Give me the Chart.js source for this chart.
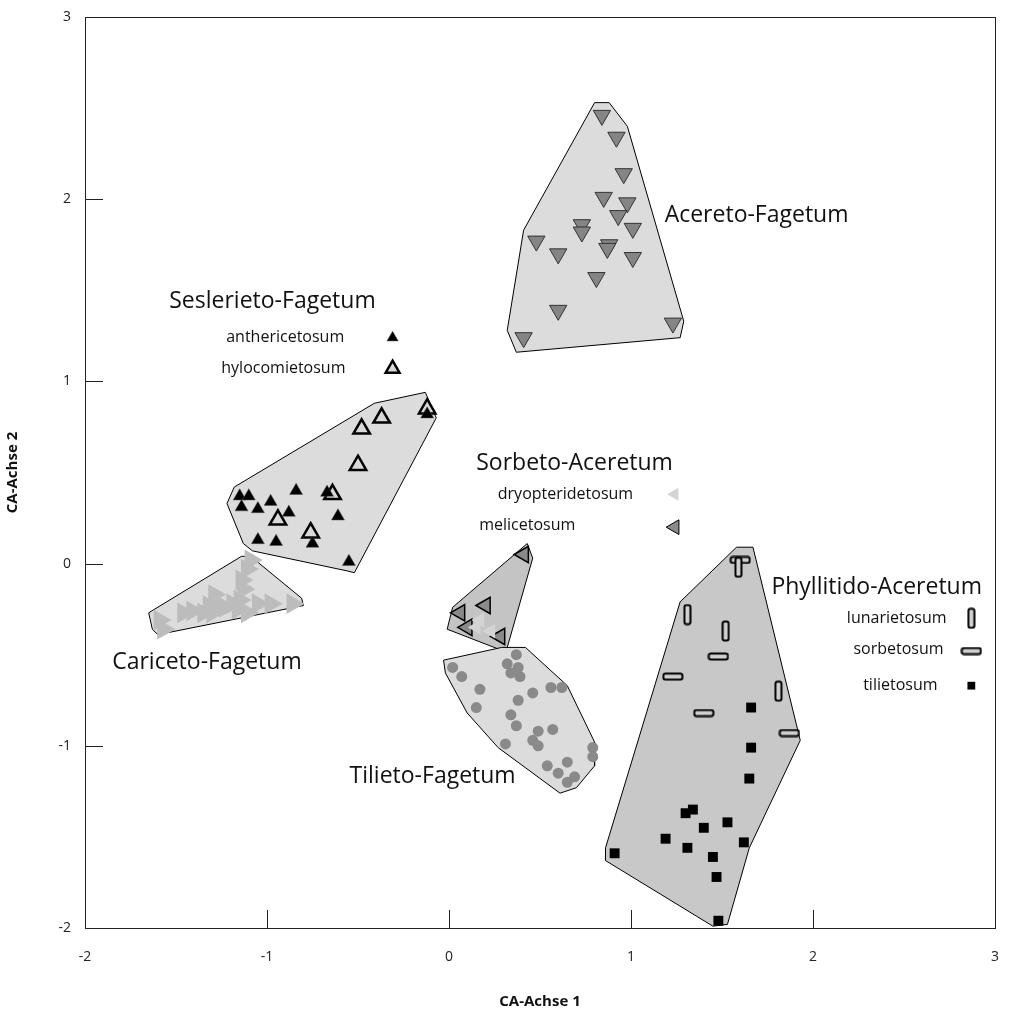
<!DOCTYPE html>
<html>
<head>
<meta charset="utf-8">
<script src="https://cdn.jsdelivr.net/npm/chart.js@4/dist/chart.umd.min.js"></script>
<style>
  body { margin: 0; background: #fff; }
  #wrap { width: 1009px; height: 1016px; }
</style>
</head>
<body>
<div id="wrap"><canvas id="caChart" width="1009" height="1016"></canvas></div>
<script>
// Axis ticks
const xTicks = [-2, -1, 0, 1, 2, 3];
const yTicks = [-2, -1, 0, 1, 2, 3];

// Acereto-Fagetum (down triangles)
const acereto = [[0.84,2.46],[0.92,2.34],[0.96,2.14],[0.85,2.01],[0.98,1.98],[0.93,1.91],[1.01,1.84],
  [0.73,1.86],[0.73,1.82],[0.48,1.77],[0.60,1.70],[0.88,1.75],[0.87,1.73],[1.01,1.68],[0.81,1.57],
  [0.60,1.39],[1.23,1.32],[0.41,1.24]];
const aceretoHull = [[0.80,2.53],[0.88,2.53],[0.98,2.40],[1.29,1.33],[1.27,1.24],[0.37,1.16],[0.32,1.28],[0.41,1.83]];

// Seslerieto-Fagetum
const anthericetosum = [[-1.15,0.37],[-1.10,0.37],[-1.14,0.31],[-0.98,0.34],[-1.05,0.30],[-0.88,0.28],
  [-0.84,0.40],[-0.67,0.39],[-0.61,0.26],[-1.05,0.13],[-0.95,0.12],[-0.75,0.11],[-0.55,0.01],[-0.12,0.82]];
const hylocomietosum = [[-0.37,0.80],[-0.48,0.74],[-0.50,0.54],[-0.64,0.38],[-0.94,0.24],[-0.76,0.17],[-0.12,0.85]];
const seslerietoHull = [[-1.18,0.42],[-1.22,0.33],[-1.13,0.11],[-1.08,0.07],[-0.56,-0.04],[-0.52,-0.05],
  [-0.07,0.80],[-0.13,0.94],[-0.41,0.88]];

// Cariceto-Fagetum (right triangles)
const cariceto = [[-1.09,0.02],[-1.11,-0.03],[-1.14,-0.09],[-1.13,-0.14],[-1.15,-0.20],[-1.29,-0.17],
  [-1.27,-0.22],[-1.32,-0.23],[-1.41,-0.26],[-1.35,-0.27],[-1.30,-0.27],[-1.23,-0.24],[-1.19,-0.22],
  [-1.16,-0.25],[-1.11,-0.27],[-1.05,-0.22],[-0.98,-0.22],[-0.86,-0.22],[-1.59,-0.31],[-1.57,-0.36],[-1.46,-0.27]];
const caricetoHull = [[-1.65,-0.27],[-1.14,0.04],[-1.09,0.04],[-0.81,-0.19],[-0.80,-0.23],[-1.60,-0.39],[-1.63,-0.36]];

// Sorbeto-Aceretum (left triangles)
const melicetosum = [[0.41,0.05],[0.20,-0.23],[0.06,-0.27],[0.10,-0.35],[0.28,-0.40]];
const dryopteridetosum = [[0.15,-0.35],[0.23,-0.37],[0.17,-0.31]];
const sorbetoHull = [[0.43,0.11],[0.46,0.03],[0.32,-0.46],[0.30,-0.48],[-0.01,-0.36],[0.02,-0.24]];

// Tilieto-Fagetum (circles)
const tilieto = [[0.02,-0.57],[0.07,-0.62],[0.17,-0.69],[0.15,-0.79],[0.37,-0.50],[0.32,-0.55],[0.38,-0.57],
  [0.34,-0.60],[0.39,-0.62],[0.46,-0.71],[0.38,-0.75],[0.56,-0.68],[0.62,-0.68],[0.34,-0.83],[0.37,-0.89],
  [0.49,-0.92],[0.57,-0.91],[0.46,-0.97],[0.49,-1.00],[0.31,-0.99],[0.54,-1.11],[0.65,-1.09],[0.60,-1.15],
  [0.69,-1.17],[0.65,-1.20],[0.79,-1.01],[0.79,-1.06]];
const tilietoHull = [[-0.03,-0.53],[0.29,-0.46],[0.42,-0.46],[0.65,-0.67],[0.80,-0.98],[0.80,-1.11],
  [0.70,-1.23],[0.61,-1.26],[0.27,-1.01],[0.10,-0.82],[-0.02,-0.60]];

// Phyllitido-Aceretum
const lunarietosum = [[1.31,-0.28],[1.52,-0.37],[1.81,-0.70],[1.59,-0.02]];
const sorbetosum = [[1.60,0.02],[1.48,-0.51],[1.23,-0.62],[1.40,-0.82],[1.87,-0.93]];
const tilietosum = [[1.66,-0.79],[1.66,-1.01],[1.65,-1.18],[1.34,-1.35],[1.30,-1.37],[1.40,-1.45],
  [1.53,-1.42],[1.19,-1.51],[1.31,-1.56],[1.62,-1.53],[0.91,-1.59],[1.45,-1.61],[1.47,-1.72],[1.48,-1.96]];
const phyllitidoHull = [[1.58,0.09],[1.67,0.09],[1.93,-0.97],[1.65,-1.56],[1.53,-1.98],[1.45,-1.99],
  [0.86,-1.63],[0.86,-1.56],[1.27,-0.21]];

// Legend marker positions
const legAnther = [[-0.31,1.24]];
const legHyloc = [[-0.31,1.07]];
const legDryop = [[1.24,0.38]];
const legMelic = [[1.24,0.20]];
const legLunar = [[2.87,-0.30]];
const legSorb = [[2.87,-0.48]];
const legTiliet = [[2.87,-0.67]];

// Text labels: [text, x, y, size]
const labels = [
  ['Acereto-Fagetum', 1.69, 1.91, 23],
  ['Seslerieto-Fagetum', -0.97, 1.44, 23],
  ['anthericetosum', -0.90, 1.24, 16],
  ['hylocomietosum', -0.91, 1.07, 16],
  ['Sorbeto-Aceretum', 0.69, 0.55, 23],
  ['dryopteridetosum', 0.64, 0.38, 16],
  ['melicetosum', 0.43, 0.21, 16],
  ['Cariceto-Fagetum', -1.33, -0.54, 23],
  ['Tilieto-Fagetum', -0.09, -1.17, 23],
  ['Phyllitido-Aceretum', 2.35, -0.13, 23],
  ['lunarietosum', 2.46, -0.30, 16],
  ['sorbetosum', 2.47, -0.47, 16],
  ['tilietosum', 2.48, -0.67, 16]
];

const FONT = "'Open Sans', sans-serif";
const pts = a => a.map(p => ({ x: p[0], y: p[1] }));
const closed = a => pts(a.concat([a[0]]));

function barMarker(w, h) {
  const c = document.createElement('canvas');
  c.width = w; c.height = h;
  const g = c.getContext('2d');
  g.fillStyle = '#d0d0d0';
  g.strokeStyle = '#000';
  g.lineWidth = 2;
  g.beginPath();
  g.roundRect(1.5, 1.5, w - 3, h - 3, 2);
  g.fill();
  g.stroke();
  return c;
}
const vBar = barMarker(9, 22);
const hBar = barMarker(22, 9);

function hull(data, color) {
  return {
    data: closed(data), showLine: true, fill: 'shape', backgroundColor: color,
    borderColor: '#000', borderWidth: 1, pointRadius: 0, tension: 0, order: 5
  };
}
function marks(data, style) {
  return Object.assign({ data: pts(data), order: 1, borderWidth: 0 }, style);
}

const sAcer = { pointStyle: 'triangle', rotation: 180, pointRadius: 10, backgroundColor: '#858585', borderColor: '#333', borderWidth: 1 };
const sAnth = { pointStyle: 'triangle', pointRadius: 7.5, backgroundColor: '#000', borderColor: '#555', borderWidth: 0.5 };
const sHylo = { pointStyle: 'triangle', pointRadius: 9.5, backgroundColor: '#d8d8d8', borderColor: '#000', borderWidth: 2.5 };
const sCari = { pointStyle: 'triangle', rotation: 90, pointRadius: 12, backgroundColor: '#bcbcbc', borderWidth: 0 };
const sMeli = { pointStyle: 'triangle', rotation: -90, pointRadius: 9.5, backgroundColor: '#8a8a8a', borderColor: '#000', borderWidth: 1.5 };
const sDryo = { pointStyle: 'triangle', rotation: -90, pointRadius: 8.5, backgroundColor: '#d4d4d4', borderWidth: 0 };
const sTili = { pointStyle: 'circle', pointRadius: 5.5, backgroundColor: '#8a8a8a', borderWidth: 0 };
const sLuna = { pointStyle: vBar, pointRadius: 10 };
const sSorb = { pointStyle: hBar, pointRadius: 10 };
const sTlst = { pointStyle: 'rect', pointRadius: 7, backgroundColor: '#000', borderWidth: 0 };

const frame = {
  id: 'frame',
  afterDatasetsDraw(chart) {
    const { ctx, chartArea: a, scales: { x, y } } = chart;
    ctx.save();
    ctx.strokeStyle = '#222';
    ctx.lineWidth = 1;
    ctx.strokeRect(a.left + 0.5, a.top + 0.5, a.right - a.left, a.bottom - a.top);
    ctx.beginPath();
    x.ticks.forEach(t => {
      if (t.value <= x.min || t.value >= x.max) return;
      const px = Math.round(x.getPixelForValue(t.value)) + 0.5;
      ctx.moveTo(px, a.bottom); ctx.lineTo(px, a.bottom - 18);
    });
    y.ticks.forEach(t => {
      if (t.value <= y.min || t.value >= y.max) return;
      const py = Math.round(y.getPixelForValue(t.value)) + 0.5;
      ctx.moveTo(a.left, py); ctx.lineTo(a.left + 18, py);
    });
    ctx.stroke();
    ctx.fillStyle = '#111';
    ctx.textAlign = 'center';
    ctx.textBaseline = 'middle';
    labels.forEach(([txt, lx, ly, size]) => {
      ctx.font = size + 'px ' + FONT;
      ctx.fillText(txt, x.getPixelForValue(lx), y.getPixelForValue(ly));
    });
    ctx.restore();
  }
};

// drop the label overhang padding so the plot box is set by layout.padding alone
function fixBox(s, key, size) {
  s[key] = size;
  s.paddingLeft = 0; s.paddingRight = 0; s.paddingTop = 0; s.paddingBottom = 0;
}

new Chart(document.getElementById('caChart'), {
  type: 'scatter',
  data: {
    datasets: [
      hull(aceretoHull, '#dcdcdc'),
      hull(seslerietoHull, '#dcdcdc'),
      hull(caricetoHull, '#dcdcdc'),
      hull(tilietoHull, '#dcdcdc'),
      hull(sorbetoHull, '#c4c4c4'),
      hull(phyllitidoHull, '#c8c8c8'),
      marks(acereto, sAcer),
      marks(anthericetosum, sAnth),
      marks(hylocomietosum, sHylo),
      marks(cariceto, sCari),
      marks(dryopteridetosum, sDryo),
      marks(melicetosum, sMeli),
      marks(tilieto, sTili),
      marks(lunarietosum, sLuna),
      marks(sorbetosum, sSorb),
      marks(tilietosum, sTlst),
      marks(legAnther, Object.assign({}, sAnth, { pointRadius: 6.5 })),
      marks(legHyloc, Object.assign({}, sHylo, { pointRadius: 8 })),
      marks(legDryop, Object.assign({}, sDryo, { pointRadius: 7.5 })),
      marks(legMelic, Object.assign({}, sMeli, { pointRadius: 8.5, borderWidth: 1 })),
      marks(legLunar, sLuna),
      marks(legSorb, sSorb),
      marks(legTiliet, Object.assign({}, sTlst, { pointRadius: 5.5 }))
    ]
  },
  options: {
    responsive: false,
    animation: false,
    events: [],
    layout: { autoPadding: false, padding: { top: 17, right: 14, left: 0, bottom: 0 } },
    plugins: { legend: { display: false }, tooltip: { enabled: false } },
    scales: {
      x: {
        type: 'linear', min: xTicks[0], max: xTicks[xTicks.length - 1],
        afterBuildTicks: s => { s.ticks = xTicks.map(v => ({ value: v })); },
        grid: { display: false }, border: { display: false },
        ticks: { padding: 13, color: '#222', font: { family: FONT, size: 14 } },
        title: { display: true, text: 'CA-Achse 1', color: '#111', font: { family: FONT, size: 15, weight: 'bold' }, padding: { top: 0, bottom: 5 } },
        afterFit: s => fixBox(s, 'height', 88)
      },
      y: {
        type: 'linear', min: yTicks[0], max: yTicks[yTicks.length - 1],
        afterBuildTicks: s => { s.ticks = yTicks.map(v => ({ value: v })); },
        grid: { display: false }, border: { display: false },
        ticks: { padding: 6, color: '#222', font: { family: FONT, size: 14 } },
        title: { display: true, text: 'CA-Achse 2', color: '#111', font: { family: FONT, size: 15, weight: 'bold' }, padding: { top: 4, bottom: 4 } },
        afterFit: s => fixBox(s, 'width', 85)
      }
    }
  },
  plugins: [frame]
});
</script>
</body>
</html>
